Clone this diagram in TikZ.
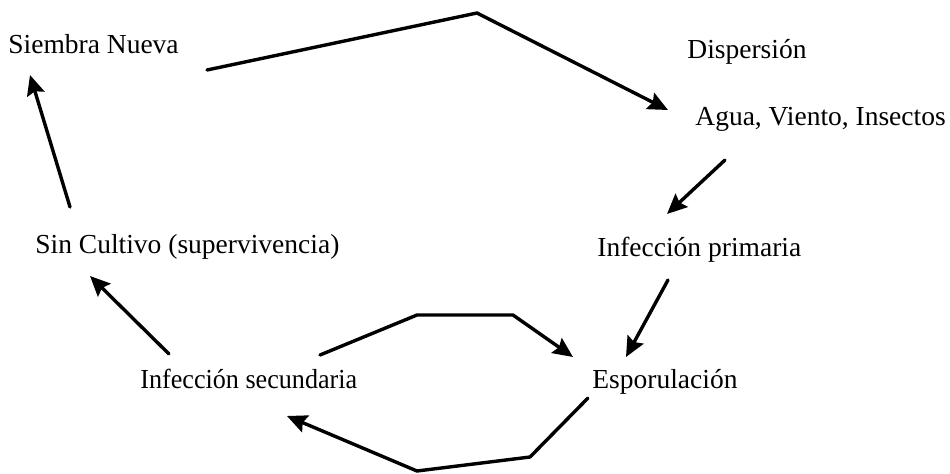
\documentclass[tikz,border=0pt]{standalone}
\usepackage{fontspec}
\setmainfont{Liberation Serif}
\usetikzlibrary{arrows.meta}
\begin{document}
\begin{tikzpicture}[x=0.5pt, y=-0.5pt, font=\fontsize{13.75}{16}\selectfont, line join=round, line cap=round,
		>={Stealth[length=10pt,width=9pt,inset=1.5pt]},
		txt/.style={anchor=base west, inner sep=0pt},
		flecha/.style={->, line width=1.7pt}]
	\useasboundingbox (0,0) rectangle (950,473);
	% etiquetas del ciclo
	\node[txt] (siembra) at (8,53) {Siembra Nueva};
	\node[txt] (disp) at (687,58) {Dispersión};
	\node[txt] (agua) at (695,125) {Agua, Viento, Insectos};
	\node[txt] (primaria) at (597,256) {Infección primaria};
	\node[txt] (sincult) at (35,253) {Sin Cultivo (supervivencia)};
	\node[txt, xscale=0.95] (secund) at (140,388) {Infección secundaria};
	\node[txt] (espor) at (592,388) {Esporulación};
	\coordinate (cima) at (477,13);
	\coordinate (ab1) at (530,457); \coordinate (ab2) at (417,471);
	\coordinate (ar1) at (417,315); \coordinate (ar2) at (513,315);
	\draw[flecha] ([shift={(199,17)}]siembra.base west) -- (cima) -- ([shift={(-27,-15)}]agua.base west);
	\draw[flecha] ([shift={(30,35)}]agua.base west) -- ([shift={(70,-42)}]primaria.base west);
	\draw[flecha] ([shift={(71,24)}]primaria.base west) -- ([shift={(34,-31)}]espor.base west);
	\draw[flecha] ([shift={(-4,10)}]espor.base west) -- (ab1) -- (ab2) -- ([shift={(147,28)}]secund.base west);
	\draw[flecha] ([shift={(180,-33)}]secund.base west) -- (ar1) -- (ar2) -- ([shift={(-19,-31)}]espor.base west);
	\draw[flecha] ([shift={(29,-34)}]secund.base west) -- ([shift={(55,23)}]sincult.base west);
	\draw[flecha] ([shift={(35,-46)}]sincult.base west) -- ([shift={(22,22)}]siembra.base west);
\end{tikzpicture}
\end{document}
